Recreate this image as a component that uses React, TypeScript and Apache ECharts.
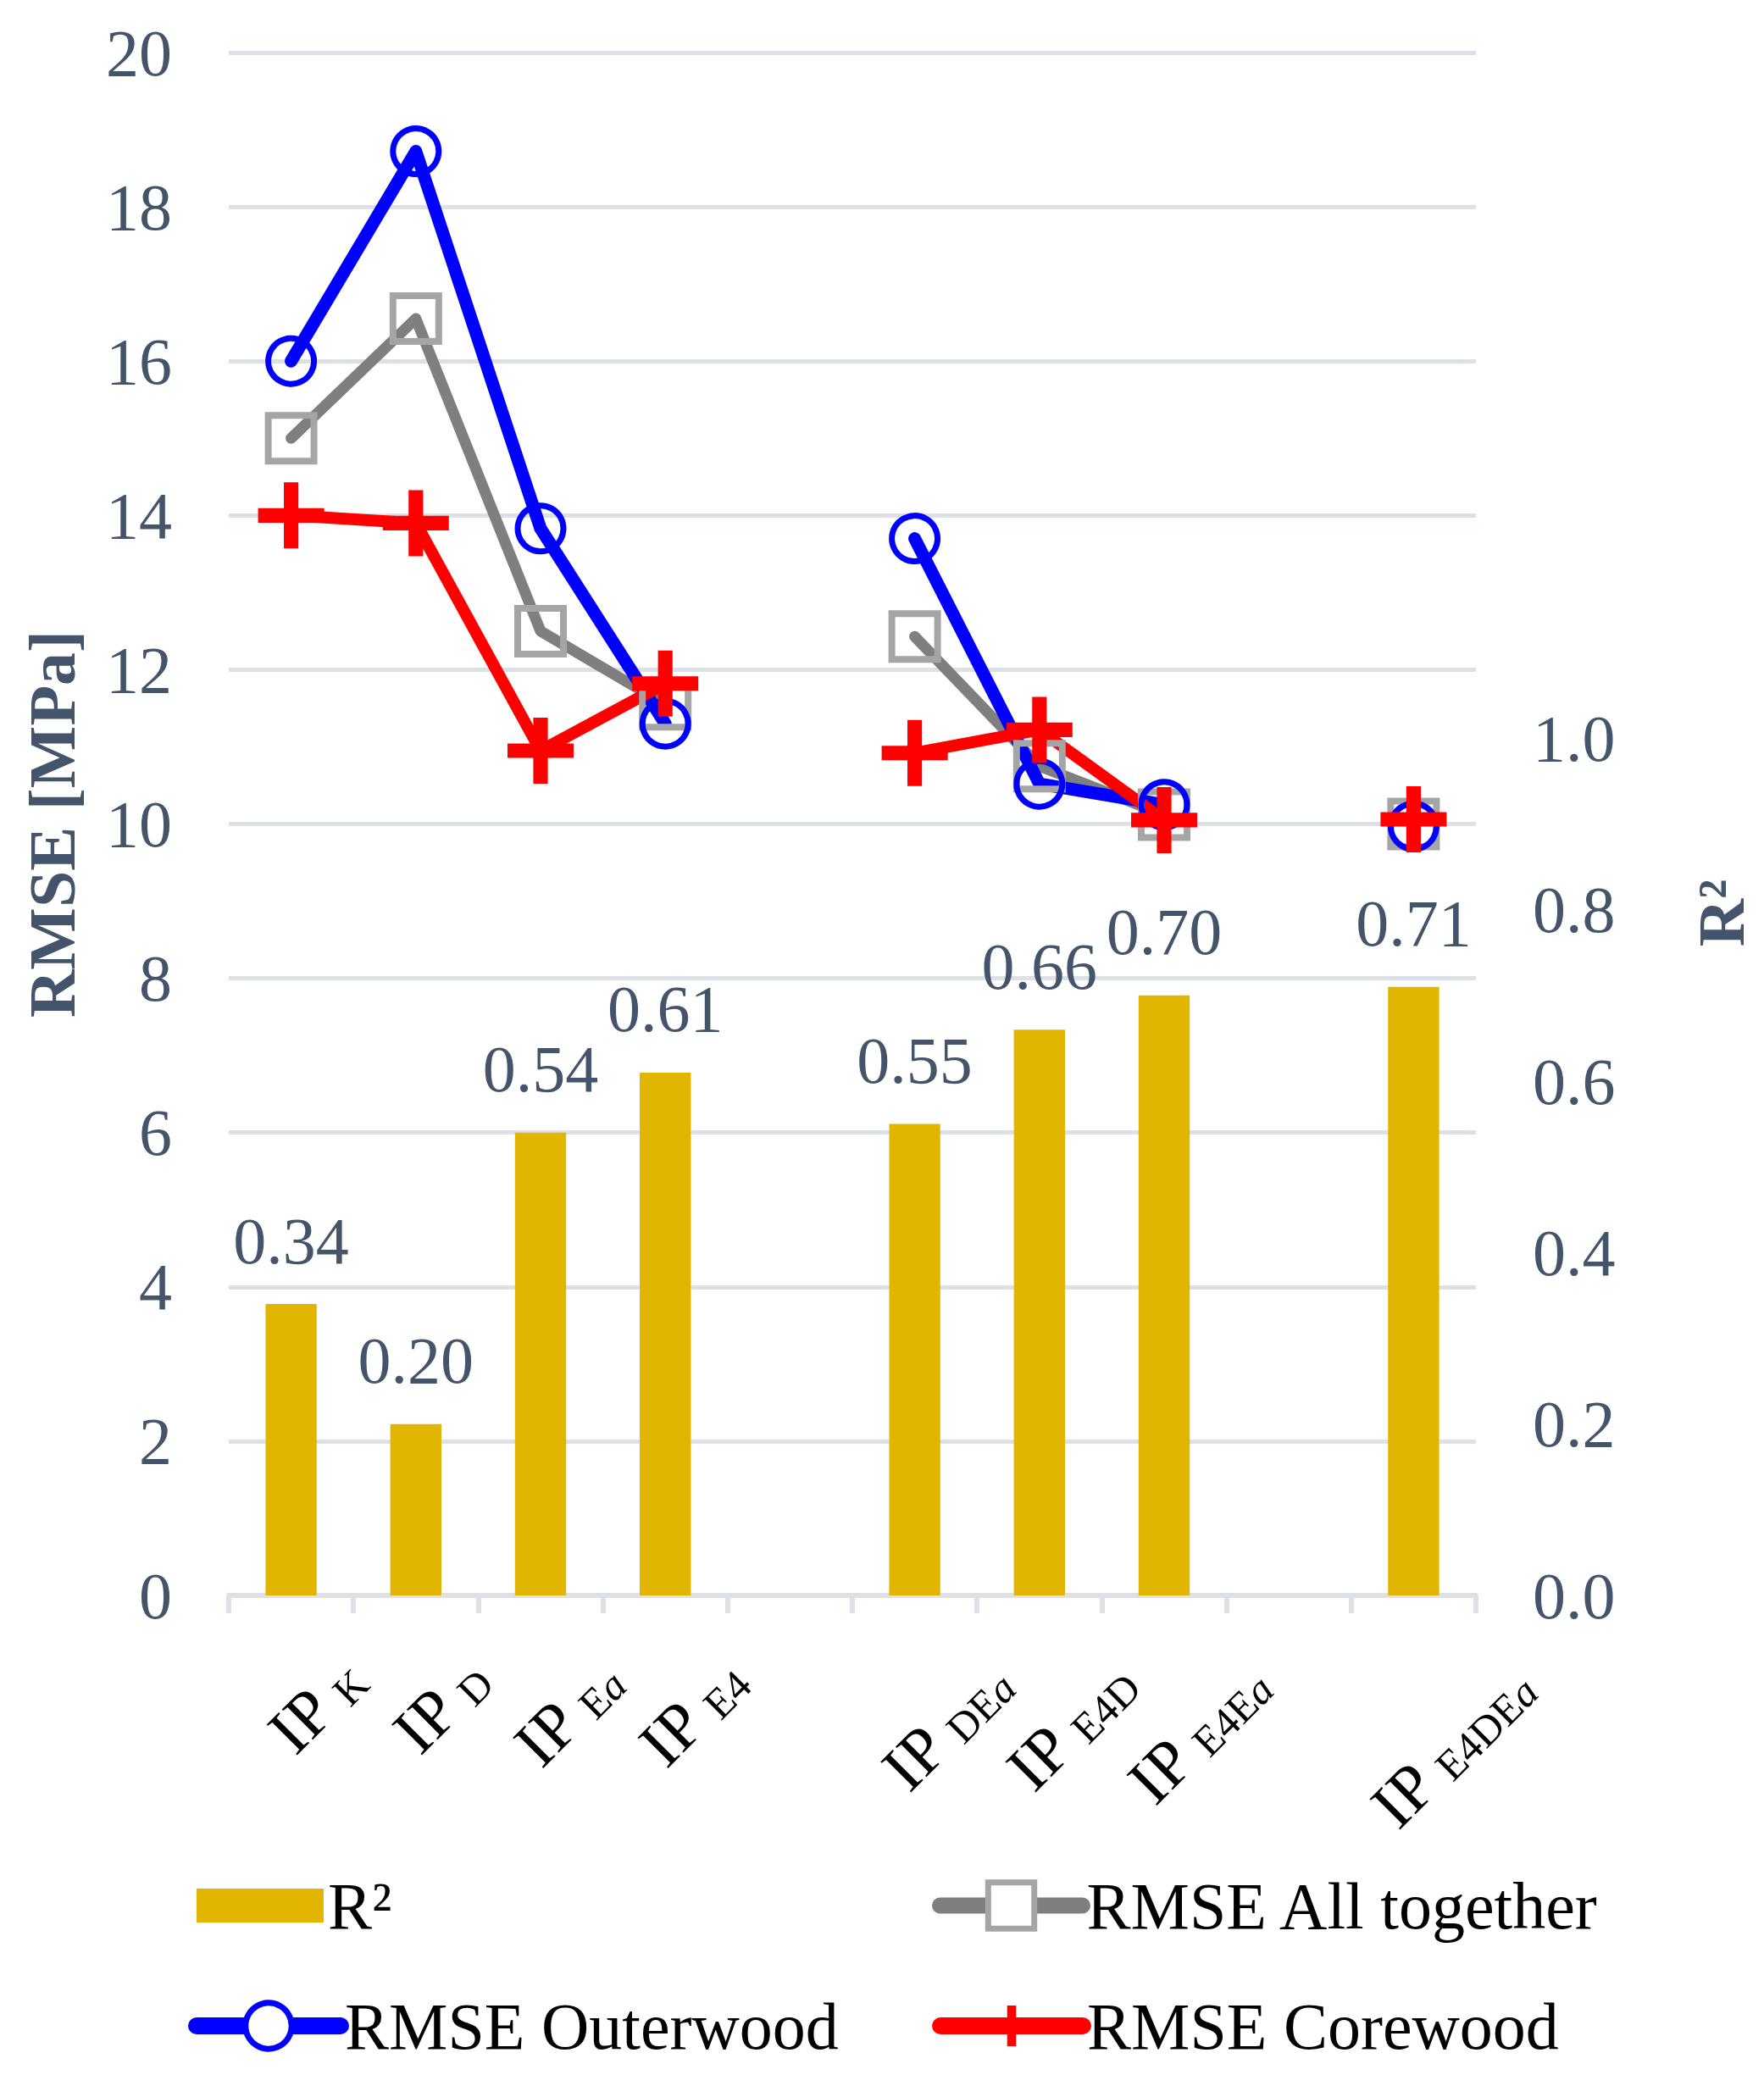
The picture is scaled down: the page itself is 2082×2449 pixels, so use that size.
import React, { useEffect, useRef } from "react";
import * as echarts from "echarts";

// ---- data ----
const subscripts: string[] = ["K", "D", "Ea", "E4", "", "DEa", "E4D", "E4Ea", "", "E4DEa"];
const r2Values: (number | null)[] = [0.34, 0.2, 0.54, 0.61, null, 0.55, 0.66, 0.7, null, 0.71];
const rmseAll: (number | null)[] = [15.0, 16.55, 12.5, 11.55, null, 12.43, 10.75, 10.12, null, 10.0];
const rmseOuter: (number | null)[] = [16.0, 18.72, 13.83, 11.3, null, 13.7, 10.52, 10.25, null, 9.97];
const rmseCore: (number | null)[] = [14.0, 13.9, 10.95, 11.82, null, 10.92, 11.22, 10.05, null, 10.06];
const leftAxis = { min: 0, max: 20, interval: 2 };
const rightAxis = { min: 0, max: 1.8, interval: 0.2, lastLabeled: 1.0 };
const seriesNames = ["R²", "RMSE All together", "RMSE Outerwood", "RMSE Corewood"];

const FONT = "'Liberation Serif', 'Times New Roman', serif";
const AXIS_COLOR = "#44546A";
const GRID_COLOR = "#DDE1E7";
const PLUS = "path://M39,0H61V39H100V61H61V100H39V61H0V39H39Z";

const W = 2082;
const H = 2449;
const GRID = { left: 270, right: 340, top: 62, bottom: 566 };
const LABEL_FS = 78;
const SUB_FS = 50;
const LABEL_MARGIN = 100;

const categories = subscripts.map((s, i) => (s ? "IP " + s : "gap" + i));

function richLabel(value: string): string {
  if (value.startsWith("gap")) return "";
  const sub = value.slice(3);
  if (sub.endsWith("a")) return "IP {s|" + sub.slice(0, -1) + "}{si|a}";
  return "IP {s|" + sub + "}";
}

function measureLabel(ctx: CanvasRenderingContext2D | null, sub: string): number {
  const base = sub.endsWith("a") ? sub.slice(0, -1) : sub;
  if (!ctx) return 1.139 * LABEL_FS + base.length * 0.6 * SUB_FS + (sub.endsWith("a") ? 0.5 * SUB_FS : 0);
  ctx.font = `${LABEL_FS}px ${FONT}`;
  let w = ctx.measureText("IP ").width;
  ctx.font = `${SUB_FS}px ${FONT}`;
  w += ctx.measureText(base).width;
  if (sub.endsWith("a")) {
    ctx.font = `italic ${SUB_FS}px ${FONT}`;
    w += ctx.measureText("a").width;
  }
  return w;
}

export default function App() {
  const ref = useRef<HTMLDivElement>(null);
  useEffect(() => {
    if (!ref.current) return;
    const chart = echarts.init(ref.current, undefined, { renderer: "svg" });
    const ctx = document.createElement("canvas").getContext("2d");
    const anchorY = H - GRID.bottom + LABEL_MARGIN;
    const k = Math.SQRT1_2;
    // Excel-like placement of the 45° labels: tops aligned, boxes centred near the category
    const xData = categories.map((c, i) => {
      const sub = subscripts[i];
      if (!sub) return c;
      const L = measureLabel(ctx, sub);
      const X = 29 + 0.144 * (L - 125);
      const Y = 2013 + 0.44 * (L - 125) - anchorY;
      const u = k * (X - Y);
      const v = k * (X + Y);
      const pr = -u - L / 2;
      const pt = Math.max(2 * v, 0);
      const pb = Math.max(-2 * v, 0);
      return { value: c, textStyle: { padding: [pt, pr, pb, 0] } };
    });

    const legendText = { color: "#000", fontSize: 78, fontFamily: FONT };
    chart.setOption({
      animation: false,
      backgroundColor: "#fff",
      grid: GRID,
      legend: [
        {
          data: [seriesNames[0]], left: 232, top: 2210, padding: 0, icon: "rect",
          itemWidth: 150, itemHeight: 40, textStyle: legendText, selectedMode: false,
        },
        {
          data: [seriesNames[1]], left: 1100, top: 2210, padding: 0,
          itemWidth: 168, itemHeight: 68, textStyle: legendText, selectedMode: false,
          lineStyle: { width: 19, cap: "round" }, itemStyle: { color: "#fff", borderWidth: 7 },
        },
        {
          data: [seriesNames[2]], left: 222, top: 2352, padding: 0,
          itemWidth: 170, itemHeight: 68, textStyle: legendText, selectedMode: false,
          lineStyle: { width: 20, cap: "round" }, itemStyle: { color: "#fff", borderWidth: 7 },
        },
        {
          data: [seriesNames[3]], left: 1100, top: 2352, padding: 0,
          itemWidth: 168, itemHeight: 60, textStyle: legendText, selectedMode: false,
          lineStyle: { width: 20, cap: "round" }, itemStyle: { borderWidth: 0 },
        },
      ],
      xAxis: {
        type: "category",
        data: xData,
        boundaryGap: true,
        axisLine: { show: true, lineStyle: { color: GRID_COLOR, width: 6 } },
        axisTick: { show: true, length: 21, lineStyle: { color: GRID_COLOR, width: 6 } },
        axisLabel: {
          interval: 0,
          rotate: 45,
          margin: LABEL_MARGIN,
          color: "#000",
          fontSize: LABEL_FS,
          fontFamily: FONT,
          formatter: (v: string) => richLabel(v),
          rich: {
            s: { fontSize: SUB_FS, fontFamily: FONT, color: "#000", verticalAlign: "bottom" },
            si: { fontSize: SUB_FS, fontFamily: FONT, color: "#000", fontStyle: "italic", verticalAlign: "bottom" },
          },
        },
      },
      yAxis: [
        {
          type: "value",
          min: leftAxis.min,
          max: leftAxis.max,
          interval: leftAxis.interval,
          name: "RMSE [MPa]",
          nameLocation: "middle",
          nameGap: 170,
          nameTextStyle: { color: AXIS_COLOR, fontSize: 78, fontWeight: "bold", fontFamily: FONT },
          axisLine: { show: false },
          axisTick: { show: false },
          splitLine: { show: true, lineStyle: { color: GRID_COLOR, width: 5 } },
          axisLabel: { color: AXIS_COLOR, fontSize: 78, fontFamily: FONT, margin: 67 },
        },
        {
          type: "value",
          position: "right",
          min: rightAxis.min,
          max: rightAxis.max,
          interval: rightAxis.interval,
          name: "R²",
          nameLocation: "middle",
          nameGap: 250,
          nameTextStyle: {
            color: AXIS_COLOR, fontSize: 78, fontWeight: "bold", fontFamily: FONT,
            padding: [0, 210, 0, 0],
          },
          axisLine: { show: false },
          axisTick: { show: false },
          splitLine: { show: false },
          axisLabel: {
            color: AXIS_COLOR, fontSize: 78, fontFamily: FONT, margin: 67,
            formatter: (v: number) => (v <= rightAxis.lastLabeled + 1e-6 ? v.toFixed(1) : ""),
          },
        },
      ],
      series: [
        {
          name: seriesNames[0],
          type: "bar",
          yAxisIndex: 1,
          data: r2Values,
          barWidth: "41%",
          itemStyle: { color: "#E2B600" },
          label: {
            show: true,
            position: "top",
            distance: 36,
            color: AXIS_COLOR,
            fontSize: 78,
            fontFamily: FONT,
            formatter: (p: any) => (p.value == null ? "" : Number(p.value).toFixed(2)),
          },
        },
        {
          name: seriesNames[1],
          type: "line",
          yAxisIndex: 0,
          data: rmseAll,
          symbol: "rect",
          symbolSize: 54,
          lineStyle: { color: "#7F7F7F", width: 13, cap: "round", join: "round" },
          itemStyle: { color: "rgba(0,0,0,0)", borderColor: "#A5A5A5", borderWidth: 8 },
        },
        {
          name: seriesNames[2],
          type: "line",
          yAxisIndex: 0,
          data: rmseOuter,
          symbol: "circle",
          symbolSize: 54,
          lineStyle: { color: "#0000FF", width: 15, cap: "round", join: "round" },
          itemStyle: { color: "rgba(0,0,0,0)", borderColor: "#0000FF", borderWidth: 7 },
        },
        {
          name: seriesNames[3],
          type: "line",
          yAxisIndex: 0,
          data: rmseCore,
          symbol: PLUS,
          symbolSize: 78,
          lineStyle: { color: "#FF0000", width: 14, cap: "round", join: "round" },
          itemStyle: { color: "#FF0000", borderWidth: 0 },
        },
      ],
    });
    return () => chart.dispose();
  }, []);
  return (
    <div
      ref={ref}
      style={{ position: "absolute", left: 0, top: 0, width: W, height: H, background: "#fff" }}
    />
  );
}
